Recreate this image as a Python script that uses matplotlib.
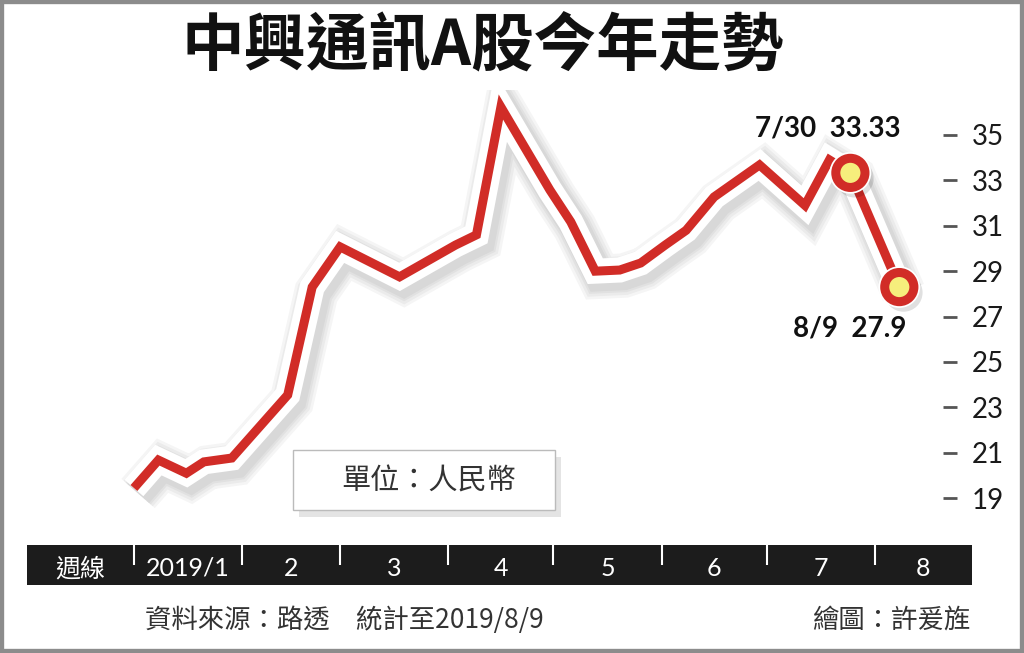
"""
ZTE A-share weekly price, 2019 YTD (newspaper-style line chart).
Writes out.png (1024x653).
"""
import matplotlib
matplotlib.use("Agg")
import matplotlib.pyplot as plt
import matplotlib.patheffects as pe
from matplotlib.patches import Rectangle
import pandas as pd

TITLE = "中興通訊A股今年走勢"
UNIT = "單位：人民幣"
SOURCE = "資料來源：路透　統計至2019/8/9"
CREDIT = "繪圖：許爰旌"

# weekly closes
DATES = ["2019-01-01", "2019-01-08", "2019-01-16", "2019-01-21", "2019-01-29",
         "2019-02-14", "2019-02-21", "2019-03-01", "2019-03-18", "2019-04-03",
         "2019-04-09", "2019-04-16", "2019-04-30", "2019-05-06", "2019-05-13",
         "2019-05-20", "2019-05-26", "2019-06-02", "2019-06-08", "2019-06-16",
         "2019-06-29", "2019-07-12", "2019-07-19", "2019-07-25", "2019-08-08"]
PRICES = [19.45, 20.68, 20.10, 20.60, 20.77,
          23.55, 28.30, 30.07, 28.75, 30.15,
          30.60, 36.23, 32.58, 31.17, 29.00,
          29.05, 29.36, 30.15, 30.80, 32.27,
          33.68, 31.90, 33.90, 33.33, 28.30]

HILITE_DATES = ["2019-07-25", "2019-08-08"]
HILITE_PRICES = [33.33, 28.30]
HILITE_LABELS = ["7/30  33.33", "8/9  27.9"]

Y_TICKS = [19, 21, 23, 25, 27, 29, 31, 33, 35]
MONTH_STARTS = ["2019-01-01", "2019-02-01", "2019-03-01", "2019-04-01",
                "2019-05-01", "2019-06-01", "2019-07-01", "2019-08-01"]
BAR_LABELS = ["週線", "2019/1", "2", "3", "4", "5", "6", "7", "8"]

RED = "#d12c27"
YELLOW = "#f6ee7c"

plt.rcParams["font.family"] = ["Lato", "Noto Sans CJK TC", "DejaVu Sans"]

W, H = 1024, 653


def frect(left, top, right, bottom):
    return [left / W, 1 - bottom / H, (right - left) / W, (bottom - top) / H]


jan1 = pd.Timestamp("2019-01-01")
x_left = jan1 - pd.Timedelta(days=30.6)
x_right_main = jan1 + pd.Timedelta(days=231.5)
x_right_bar = jan1 + pd.Timedelta(days=239.8)

fig = plt.figure(figsize=(10.24, 6.53), dpi=100)
fig.patch.set_facecolor("white")

# ---- line panel
ax = fig.add_axes(frect(27, 90, 943, 540))
ax.set_facecolor("none")
ax.set_xlim(x_left, x_right_main)
ax.set_ylim(17.16, 36.98)

shadow = [pe.SimpleLineShadow(offset=(3, -4), shadow_color="k", alpha=0.04,
                              linewidth=w) for w in (32, 28, 24, 21)]
line_fx = shadow + [pe.Stroke(linewidth=18, foreground="white", joinstyle="miter"),
                    pe.Normal()]
ax.plot(pd.to_datetime(DATES), PRICES, color=RED, lw=6.5,
        solid_joinstyle="miter", solid_capstyle="butt", path_effects=line_fx)

marker_fx = [pe.SimpleLineShadow(offset=(3, -4), shadow_color="k", alpha=0.12),
             pe.Stroke(linewidth=9, foreground="white"), pe.Normal()]
ax.plot(pd.to_datetime(HILITE_DATES), HILITE_PRICES, ls="none", marker="o",
        ms=21, mew=6.5, mec=RED, mfc=YELLOW, path_effects=marker_fx, zorder=3)

ax.annotate(HILITE_LABELS[0], (pd.Timestamp(HILITE_DATES[0]), HILITE_PRICES[0]),
            xytext=(-16, 32), textcoords="offset points", ha="center", va="center",
            fontsize=20, fontweight="bold", color="#111")
ax.annotate(HILITE_LABELS[1], (pd.Timestamp(HILITE_DATES[1]), HILITE_PRICES[1]),
            xytext=(-36, -30), textcoords="offset points", ha="center", va="center",
            fontsize=20, fontweight="bold", color="#111")

ax.yaxis.tick_right()
ax.set_yticks(Y_TICKS)
ax.tick_params(axis="y", direction="out", length=10, width=2, color="#555",
               pad=11, labelsize=20, labelcolor="#1a1a1a")
ax.tick_params(axis="x", bottom=False, labelbottom=False)
for s in ax.spines.values():
    s.set_visible(False)

# ---- month bar
bar = fig.add_axes(frect(27, 545, 972, 585))
bar.set_facecolor("#1c1c1c")
bar.set_xlim(x_left, x_right_bar)
bar.set_ylim(0, 1)
starts = pd.to_datetime(MONTH_STARTS)
bar.vlines(starts, 0.5, 1.0, color="white", lw=1.5)
edges = [x_left] + list(starts) + [x_right_bar]
for lab, a, b in zip(BAR_LABELS, edges[:-1], edges[1:]):
    bar.text(a + (b - a) / 2, 0.42, lab, color="white", ha="center", va="center",
             fontsize=18, family=["Lato", "Noto Sans CJK TC"])
bar.set_xticks([])
bar.set_yticks([])
for s in bar.spines.values():
    s.set_visible(False)

# ---- unit box
box = Rectangle((293 / W, 1 - 510 / H), 262 / W, 60 / H, transform=fig.transFigure,
                facecolor="white", edgecolor="#bbbbbb", lw=1,
                path_effects=[pe.SimplePatchShadow(offset=(4, -5), alpha=0.15),
                              pe.Normal()])
fig.add_artist(box)
fig.text(429 / W, 1 - 482 / H, UNIT, ha="center", va="center", fontsize=21,
         color="#333", family=["Noto Sans CJK TC"])

# ---- title and footer
fig.text(483 / W, 1 - 46 / H, TITLE, ha="center", va="center", fontsize=45,
         fontweight="heavy", color="#111", family=["Noto Sans CJK TC"])
fig.text(145 / W, 1 - 620 / H, SOURCE, ha="left", va="center", fontsize=19,
         color="#333", family=["Noto Sans CJK TC"])
fig.text(970 / W, 1 - 620 / H, CREDIT, ha="right", va="center", fontsize=19,
         color="#333", family=["Noto Sans CJK TC"])

fig.add_artist(Rectangle((0, 0), 1, 1, transform=fig.transFigure, fill=False,
                         edgecolor="#8c8c8c", lw=6))

fig.savefig("out.png", dpi=100)
